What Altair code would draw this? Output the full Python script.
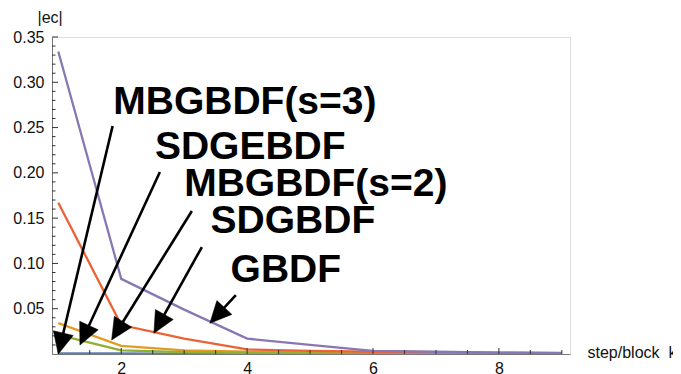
import math
import altair as alt
import pandas as pd

# ---------------- data ----------------
steps = [1, 2, 3, 4, 5, 6, 7, 8, 9]
series_names = ["s1", "s2", "s3", "s4", "s5"]
s1 = [0.0008, 0.0006, 0.0005, 0.0004, 0.0003, 0.0003, 0.0002, 0.0002, 0.0002]
s2 = [0.034, 0.009, 0.004, 0.0025, 0.0018, 0.0013, 0.0010, 0.0008, 0.0007]
s3 = [0.021, 0.004, 0.002, 0.0012, 0.0008, 0.0006, 0.0005, 0.0004, 0.0003]
s4 = [0.167, 0.032, 0.017, 0.005, 0.0035, 0.0025, 0.0020, 0.0015, 0.0012]
s5 = [0.334, 0.083, 0.049, 0.017, 0.010, 0.0035, 0.0025, 0.0015, 0.0010]
series_values = [s1, s2, s3, s4, s5]
colors = ["#5E81B5", "#E19C24", "#8FB032", "#EB6235", "#8778B3"]

x_label_values = [2, 4, 6, 8]
y_label_values = [0.05, 0.10, 0.15, 0.20, 0.25, 0.30, 0.35]
x_minor_ticks = [v / 2 for v in range(2, 19) if (v / 2) not in x_label_values]
y_minor_ticks = [v / 100 for v in range(1, 35) if v % 5 != 0]

# annotations (data coordinates)
ann_text = ["MBGBDF(s=3)", "SDGEBDF", "MBGBDF(s=2)", "SDGBDF", "GBDF"]
ann_text_x = [1.873, 2.535, 3.0, 3.419, 3.737]
ann_text_y = [0.265, 0.2153, 0.1748, 0.1339, 0.0798]
arrow_x0 = [1.863, 2.614, 3.122, 3.281, 3.821]
arrow_y0 = [0.2517, 0.2010, 0.1579, 0.1181, 0.0651]
arrow_x1 = [1.0, 1.344, 1.848, 2.519, 3.408]
arrow_y1 = [0.0, 0.0099, 0.0155, 0.0229, 0.0339]

# ---------------- layout ----------------
X_DOM = [0.9, 9.13]
Y_DOM = [0.0, 0.35]
W, H = 518, 317
FONT = "Liberation Sans"
px_x = W / (X_DOM[1] - X_DOM[0])
px_y = H / (Y_DOM[1] - Y_DOM[0])

xs = alt.Scale(domain=X_DOM, nice=False, zero=False)
ys = alt.Scale(domain=Y_DOM, nice=False, zero=False)

x_axis = alt.Axis(
    values=x_label_values, format="d", ticks=False, grid=False,
    domain=True, domainColor="#777", domainWidth=1,
    labelFont=FONT, labelFontSize=16, labelColor="#111", labelPadding=6,
    title="step/block\u00a0\u00a0k", titleFont=FONT, titleFontSize=16,
    titleFontWeight="normal", titleColor="#111", titleAlign="left",
    titleBaseline="alphabetic", titleX=535, titleY=3,
)
y_axis = alt.Axis(
    values=y_label_values, format=".2f", ticks=False, grid=False,
    domain=True, domainColor="#777", domainWidth=1,
    labelFont=FONT, labelFontSize=16, labelColor="#111", labelPadding=8,
    title="|ec|", titleFont=FONT, titleFontSize=16, titleFontWeight="normal",
    titleColor="#111", titleAngle=0, titleAlign="left", titleBaseline="middle",
    titleX=-15, titleY=-20,
)


def X(field):
    return alt.X(field, type="quantitative", scale=xs, axis=x_axis)


def Y(field):
    return alt.Y(field, type="quantitative", scale=ys, axis=y_axis)


layers = []
for name, vals, col in zip(series_names, series_values, colors):
    df = pd.DataFrame({"k": steps, "ec": vals})
    layers.append(
        alt.Chart(df).mark_line(strokeWidth=2.3, color=col, clip=True).encode(
            x=X("k"), y=Y("ec")
        )
    )

# inward tick marks
ytick_major = pd.DataFrame({"v": y_label_values})
ytick_minor = pd.DataFrame({"v": y_minor_ticks})
xtick_major = pd.DataFrame({"v": x_label_values})
xtick_minor = pd.DataFrame({"v": x_minor_ticks})
TICK_COLOR = "#333"
layers.append(alt.Chart(ytick_major).mark_rule(color=TICK_COLOR, strokeWidth=1).encode(
    y=Y("v"), x=alt.value(0), x2=alt.value(6)))
layers.append(alt.Chart(ytick_minor).mark_rule(color=TICK_COLOR, strokeWidth=1).encode(
    y=Y("v"), x=alt.value(0), x2=alt.value(3.5)))
layers.append(alt.Chart(xtick_major).mark_rule(color=TICK_COLOR, strokeWidth=1).encode(
    x=X("v"), y=alt.value(H), y2=alt.value(H - 6)))
layers.append(alt.Chart(xtick_minor).mark_rule(color=TICK_COLOR, strokeWidth=1).encode(
    x=X("v"), y=alt.value(H), y2=alt.value(H - 4)))

# arrows
rows = []
for x0, y0, x1, y1 in zip(arrow_x0, arrow_y0, arrow_x1, arrow_y1):
    dx = (x1 - x0) * px_x
    dy = -(y1 - y0) * px_y
    L = math.hypot(dx, dy)
    ux, uy = dx / L, dy / L
    back = 10.0
    ex = x1 - ux * back / px_x
    ey = y1 + uy * back / px_y
    ang = math.degrees(math.atan2(dx, -dy)) % 360
    rows.append({"x0": x0, "y0": y0, "ex": ex, "ey": ey, "tx": x1, "ty": y1, "ang": ang})
arrows = pd.DataFrame(rows)

layers.append(alt.Chart(arrows).mark_rule(color="black", strokeWidth=2.6).encode(
    x=X("x0"), y=Y("y0"), x2="ex", y2="ey"))
layers.append(alt.Chart(arrows).mark_point(
    shape="M0,0L0.95,2L-0.95,2Z", size=460, filled=True, fill="black",
    stroke="black", strokeWidth=0.5, opacity=1).encode(
    x=X("tx"), y=Y("ty"), angle=alt.Angle("ang:Q", scale=None)))

labels = pd.DataFrame({"t": ann_text, "x": ann_text_x, "y": ann_text_y})
layers.append(alt.Chart(labels).mark_text(
    align="left", baseline="alphabetic", font=FONT, fontSize=39,
    fontWeight="bold", color="black").encode(x=X("x"), y=Y("y"), text="t"))

chart = alt.layer(*layers).properties(
    width=W, height=H,
    autosize=alt.AutoSizeParams(type="none"),
    padding={"left": 44, "top": 29, "right": 103, "bottom": 22},
).configure_view(stroke=None).configure(background="white")

chart.save("out.html", embed_options={"renderer": "svg", "actions": False})
